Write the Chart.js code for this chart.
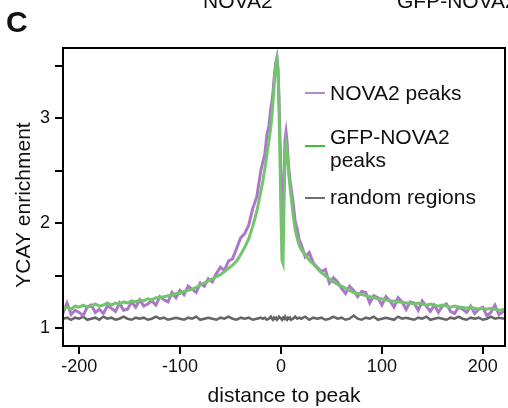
<!DOCTYPE html>
<html>
<head>
<meta charset="utf-8">
<script src="https://cdn.jsdelivr.net/npm/chart.js@4.4.1/dist/chart.umd.min.js"></script>
<style>
  html, body { margin: 0; padding: 0; background: #fff; }
  #wrap { width: 508px; height: 408px; position: relative; }
</style>
</head>
<body>
<div id="wrap"><canvas id="canvasYcay"></canvas></div>
<script>
// distance to peak (x positions of the profile samples)
var distancias = [
  -216, -212, -208, -204, -200, -196, -192, -188, -184, -180,
  -176, -172, -168, -164, -160, -156, -152, -148, -144, -140,
  -136, -132, -128, -124, -120, -116, -112, -108, -104, -100,
  -96, -92, -88, -84, -80, -76, -72, -68, -64, -60,
  -56, -52, -48, -44, -40, -36, -32, -28, -24, -20,
  -18, -16, -14, -12, -10, -9, -8, -7, -6, -5,
  -4, -3, -2, -1, 0, 1, 2, 3, 4, 5,
  6, 7, 8, 9, 10, 12, 14, 16, 18,
  20, 24, 28, 32, 36, 40, 44, 48, 52, 56,
  60, 64, 68, 72, 76, 80, 84, 88, 92, 96,
  100, 104, 108, 112, 116, 120, 124, 128, 132, 136,
  140, 144, 148, 152, 156, 160, 164, 168, 172, 176,
  180, 184, 188, 192, 196, 200, 204, 208, 212, 216,
  222
];

var nova2Peaks = [
  1.14, 1.24, 1.13, 1.17, 1.15, 1.12, 1.20, 1.22, 1.15, 1.18,
  1.14, 1.21, 1.19, 1.16, 1.24, 1.17, 1.18, 1.25, 1.20, 1.27,
  1.21, 1.23, 1.26, 1.22, 1.30, 1.27, 1.25, 1.34, 1.29, 1.36,
  1.32, 1.40, 1.37, 1.34, 1.43, 1.40, 1.47, 1.44, 1.52, 1.58,
  1.55, 1.64, 1.66, 1.76, 1.86, 1.90, 1.98, 2.14, 2.25, 2.50,
  2.58, 2.66, 2.84, 2.92, 3.10, 3.16, 3.24, 3.36, 3.46, 3.54,
  3.58, 3.48, 3.22, 2.82, 2.42, 2.16, 2.12, 2.45, 2.80, 2.87,
  2.78, 2.62, 2.50, 2.40, 2.34, 2.20, 2.02, 1.95, 1.84,
  1.80, 1.68, 1.72, 1.62, 1.58, 1.54, 1.56, 1.43, 1.48, 1.44,
  1.38, 1.33, 1.40, 1.36, 1.30, 1.35, 1.34, 1.24, 1.31, 1.29,
  1.22, 1.30, 1.26, 1.20, 1.29, 1.25, 1.18, 1.25, 1.24, 1.17,
  1.26, 1.21, 1.16, 1.22, 1.15, 1.21, 1.23, 1.16, 1.14, 1.20,
  1.18, 1.15, 1.21, 1.14, 1.18, 1.20, 1.12, 1.15, 1.22, 1.13,
  1.17
];

var gfpNova2Peaks = [
  1.19, 1.20, 1.18, 1.21, 1.20, 1.22, 1.20, 1.21, 1.23, 1.21,
  1.22, 1.24, 1.22, 1.24, 1.23, 1.25, 1.24, 1.26, 1.25, 1.27,
  1.26, 1.28, 1.27, 1.29, 1.29, 1.30, 1.31, 1.31, 1.33, 1.33,
  1.35, 1.36, 1.37, 1.39, 1.41, 1.43, 1.45, 1.47, 1.49, 1.51,
  1.54, 1.57, 1.60, 1.64, 1.70, 1.77, 1.85, 1.97, 2.11, 2.30,
  2.40, 2.52, 2.65, 2.78, 2.92, 3.02, 3.14, 3.28, 3.42, 3.52,
  3.57, 3.45, 3.12, 2.62, 2.08, 1.65, 1.62, 2.15, 2.62, 2.76,
  2.70, 2.56, 2.44, 2.34, 2.26, 2.08, 1.94, 1.86, 1.79,
  1.75, 1.70, 1.65, 1.61, 1.57, 1.53, 1.50, 1.47, 1.44, 1.42,
  1.40, 1.38, 1.36, 1.34, 1.33, 1.32, 1.31, 1.30, 1.29, 1.28,
  1.28, 1.27, 1.26, 1.26, 1.25, 1.25, 1.24, 1.24, 1.23, 1.24,
  1.23, 1.22, 1.23, 1.22, 1.21, 1.22, 1.21, 1.20, 1.21, 1.20,
  1.20, 1.19, 1.20, 1.19, 1.18, 1.19, 1.18, 1.19, 1.18, 1.17,
  1.18
];

var randomRegions = [
  1.09, 1.10, 1.08, 1.10, 1.09, 1.11, 1.08, 1.09, 1.10, 1.08,
  1.11, 1.09, 1.10, 1.08, 1.09, 1.11, 1.09, 1.08, 1.10, 1.09,
  1.10, 1.08, 1.09, 1.11, 1.09, 1.10, 1.08, 1.09, 1.10, 1.09,
  1.08, 1.10, 1.09, 1.11, 1.08, 1.09, 1.10, 1.09, 1.08, 1.10,
  1.09, 1.11, 1.09, 1.08, 1.10, 1.09, 1.10, 1.08, 1.09, 1.10,
  1.09, 1.10, 1.08, 1.09, 1.11, 1.09, 1.08, 1.10, 1.09, 1.10,
  1.08, 1.09, 1.11, 1.10, 1.09, 1.08, 1.10, 1.09, 1.11, 1.09,
  1.08, 1.10, 1.09, 1.10, 1.08, 1.09, 1.11, 1.09, 1.10,
  1.09, 1.11, 1.08, 1.10, 1.09, 1.10, 1.08, 1.09, 1.11, 1.09,
  1.10, 1.08, 1.09, 1.12, 1.09, 1.08, 1.10, 1.09, 1.11, 1.08,
  1.09, 1.10, 1.09, 1.08, 1.11, 1.09, 1.10, 1.09, 1.08, 1.10,
  1.09, 1.11, 1.08, 1.09, 1.10, 1.09, 1.08, 1.10, 1.09, 1.11,
  1.09, 1.08, 1.10, 1.09, 1.10, 1.08, 1.09, 1.11, 1.09, 1.10,
  1.09
];

var xTicks = [-200, -100, 0, 100, 200];
var yTicks = [1, 2, 3];
var yTicksMenores = [1, 1.5, 2, 2.5, 3, 3.5];

var leyenda = [
  { texto: ['NOVA2 peaks'], color: '#b48ad0' },
  { texto: ['GFP-NOVA2', 'peaks'], color: '#3cbf3c' },
  { texto: ['random regions'], color: '#6e6e6e' }
];

var fuente = '"Liberation Sans", Arial, Helvetica, sans-serif';

function puntos(valores) {
  return distancias.map(function (d, i) {
    return { x: d, y: valores[i] };
  });
}

// frame, y title, legend and the cut-off panel labels
var extras = {
  id: 'extras',
  afterDraw: function (chart) {
    var c = chart.ctx;
    var a = chart.chartArea;
    c.save();

    c.strokeStyle = '#000';
    c.lineWidth = 2;
    c.strokeRect(a.left, a.top, a.right - a.left, a.bottom - a.top);

    c.fillStyle = '#111';
    c.font = 'bold 30px ' + fuente;
    c.textAlign = 'left';
    c.textBaseline = 'alphabetic';
    c.fillText('C', 6, 32);

    c.font = '21px ' + fuente;
    c.fillText('NOVA2', 203, 8);
    c.fillText('GFP-NOVA2', 397, 8);

    c.save();
    c.translate(24, 205);
    c.rotate(-Math.PI / 2);
    c.textAlign = 'center';
    c.textBaseline = 'middle';
    c.font = '21px ' + fuente;
    c.fillText('YCAY enrichment', 0, 0);
    c.restore();

    var lineasY = [93, 146, 198];
    var baseY = [[100], [144, 167], [204]];
    c.font = '21px ' + fuente;
    c.textAlign = 'left';
    leyenda.forEach(function (item, i) {
      c.strokeStyle = item.color;
      c.lineWidth = 2;
      c.beginPath();
      c.moveTo(305, lineasY[i]);
      c.lineTo(325, lineasY[i]);
      c.stroke();
      c.fillStyle = '#111';
      item.texto.forEach(function (t, j) {
        c.fillText(t, 330, baseY[i][j]);
      });
    });

    c.restore();
  }
};

new Chart(document.getElementById('canvasYcay'), {
  type: 'line',
  data: {
    datasets: [
      {
        label: 'NOVA2 peaks',
        data: puntos(nova2Peaks),
        borderColor: '#ab78c9',
        borderWidth: 3,
        pointRadius: 0,
        tension: 0,
        order: 1
      },
      {
        label: 'GFP-NOVA2 peaks',
        data: puntos(gfpNova2Peaks),
        borderColor: '#72c46e',
        borderWidth: 3,
        pointRadius: 0,
        tension: 0,
        order: 0
      },
      {
        label: 'random regions',
        data: puntos(randomRegions),
        borderColor: '#646464',
        borderWidth: 2.5,
        pointRadius: 0,
        tension: 0,
        order: 2
      }
    ]
  },
  options: {
    responsive: true,
    maintainAspectRatio: false,
    animation: false,
    layout: { padding: { top: 48, right: 3, left: 0, bottom: 0 } },
    plugins: {
      legend: { display: false },
      tooltip: { enabled: false }
    },
    scales: {
      x: {
        type: 'linear',
        min: -216,
        max: 222,
        afterFit: function (s) { s.height = 62; },
        afterBuildTicks: function (s) {
          s.ticks = xTicks.map(function (v) { return { value: v }; });
        },
        border: { display: false },
        grid: {
          drawOnChartArea: false,
          tickLength: 8,
          tickColor: '#000',
          lineWidth: 2
        },
        ticks: {
          padding: 2,
          color: '#111',
          font: { family: fuente, size: 18 },
          maxRotation: 0
        },
        title: {
          display: true,
          text: 'distance to peak',
          color: '#111',
          font: { family: fuente, size: 21, lineHeight: 1 },
          padding: { top: 0, bottom: 1 }
        }
      },
      y: {
        min: 0.83,
        max: 3.67,
        afterFit: function (s) { s.width = 63; },
        afterBuildTicks: function (s) {
          s.ticks = yTicksMenores.map(function (v) { return { value: v }; });
        },
        border: { display: false },
        grid: {
          drawOnChartArea: false,
          tickLength: 8,
          tickColor: '#000',
          lineWidth: 2
        },
        ticks: {
          padding: 5,
          color: '#111',
          font: { family: fuente, size: 18 },
          callback: function (v) {
            return yTicks.indexOf(v) >= 0 ? String(v) : '';
          }
        }
      }
    }
  },
  plugins: [extras]
});
</script>
</body>
</html>
